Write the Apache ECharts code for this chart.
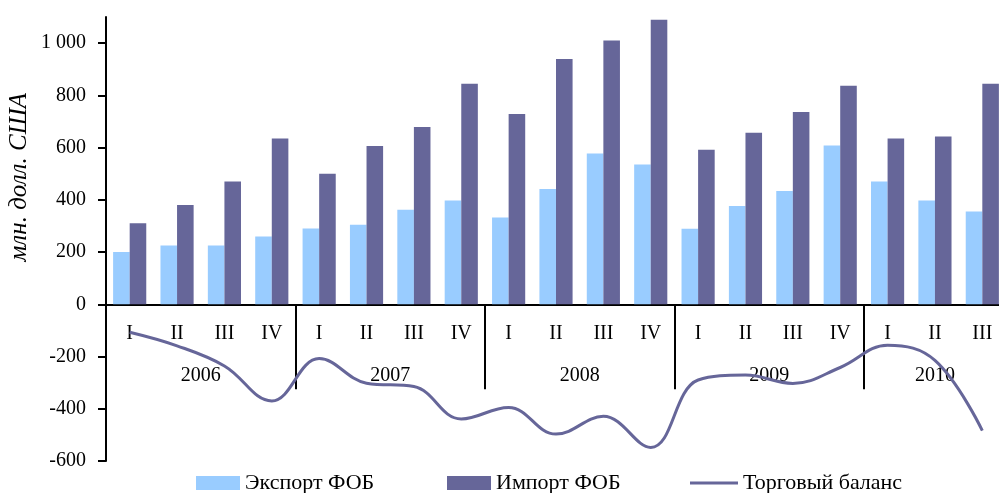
<!DOCTYPE html>
<html>
<head>
<meta charset="utf-8">
<script src="https://cdn.jsdelivr.net/npm/echarts@6/dist/echarts.min.js"></script>
<style>
html,body{margin:0;padding:0;background:#fff;}
#chart{width:999px;height:493px;}
</style>
</head>
<body>
<div id="chart"></div>
<script>
// ---- data ----
var quarters = ['I','II','III','IV','I','II','III','IV','I','II','III','IV','I','II','III','IV','I','II','III'];
var years = ['2006','2007','2008','2009','2010'];
var quartersPerYear = [4,4,4,4,3];
var exportFOB = [200,225,225,260, 290,305,362,397, 332,441,577,535, 289,376,434,608, 470,397,355];
var importFOB = [310,380,470,635, 500,606,679,844, 729,939,1010,1089, 592,657,736,837, 635,642,844];
var tradeBalance = [-107,-159,-236,-370, -208,-302,-315,-439, -395,-497,-429,-548, -290,-271,-303,-242, -157,-215,-484];
var yTicks = [-600,-400,-200,0,200,400,600,800,1000];
var seriesNames = ['Экспорт ФОБ', 'Импорт ФОБ', 'Торговый баланс'];

// year group boundaries and centres (in category units)
var bounds = [], centres = {}, acc = 0;
for (var i = 0; i < years.length; i++) {
  centres[acc + quartersPerYear[i] / 2] = years[i];
  acc += quartersPerYear[i];
  if (i < years.length - 1) bounds.push(acc);
}
var centreVals = Object.keys(centres).map(Number);

var FONT = '"Liberation Serif", "Times New Roman", serif';
var legendText = {fontFamily: FONT, fontSize: 22, color: '#000'};
var chart = echarts.init(document.getElementById('chart'));
chart.setOption({
  animation: false,
  backgroundColor: '#ffffff',
  grid: {left: 106, right: -7, top: 17, bottom: 32, containLabel: false, outerBoundsMode: 'none'},
  legend: [
    {left: 191, top: 467, itemWidth: 44, itemHeight: 14, textStyle: legendText,
      data: [{name: seriesNames[0], icon: 'rect'}]},
    {left: 442, top: 467, itemWidth: 44, itemHeight: 14, textStyle: legendText,
      data: [{name: seriesNames[1], icon: 'rect'}]},
    {left: 685, top: 467, itemWidth: 48, itemHeight: 3, textStyle: legendText,
      data: [{name: seriesNames[2], icon: 'rect'}]}
  ],
  xAxis: [
    {
      type: 'category', data: quarters, position: 'bottom',
      axisLine: {onZero: true, onZeroAxisIndex: 0, lineStyle: {color: '#000', width: 2}},
      axisTick: {show: false},
      axisLabel: {interval: 0, margin: -137, fontFamily: FONT, fontSize: 20, color: '#000'},
      splitLine: {show: false}
    },
    {
      type: 'value', min: 0, max: quarters.length, position: 'bottom',
      axisLine: {show: false, onZero: true, onZeroAxisIndex: 0},
      axisTick: {show: true, inside: false, length: 85, customValues: bounds, lineStyle: {color: '#000', width: 2}},
      axisLabel: {show: true, margin: -95, customValues: centreVals, fontFamily: FONT, fontSize: 20, color: '#000',
        formatter: function (v) { return centres[v] || ''; }},
      splitLine: {show: false}
    }
  ],
  yAxis: {
    type: 'value', min: -600, max: 1100, interval: 200,
    axisLine: {show: true, onZero: false, lineStyle: {color: '#000', width: 2}},
    axisTick: {show: true, inside: false, length: 8, customValues: yTicks, lineStyle: {color: '#000', width: 2}},
    axisLabel: {margin: 20, customValues: yTicks, fontFamily: FONT, fontSize: 20, color: '#000',
      formatter: function (v) { return Math.abs(v) >= 1000 ? String(v).replace(/(\d)(\d{3})$/, '$1 $2') : String(v); }},
    splitLine: {show: false}
  },
  graphic: [{
    type: 'text', left: 7, top: 93, rotation: Math.PI / 2,
    style: {text: 'млн. долл. США', font: 'italic 25px ' + FONT, fill: '#000'}
  }],
  series: [
    {name: seriesNames[0], type: 'bar', data: exportFOB, xAxisIndex: 0, barGap: '0%', barCategoryGap: '30%',
      itemStyle: {color: '#99CCFF'}},
    {name: seriesNames[1], type: 'bar', data: importFOB, xAxisIndex: 0, barGap: '0%', barCategoryGap: '30%',
      itemStyle: {color: '#666699'}},
    {name: seriesNames[2], type: 'line', data: tradeBalance, xAxisIndex: 0, smooth: 0.4, symbol: 'none',
      lineStyle: {color: '#666699', width: 3}, itemStyle: {color: '#666699'}, z: 5}
  ]
});
</script>
</body>
</html>
